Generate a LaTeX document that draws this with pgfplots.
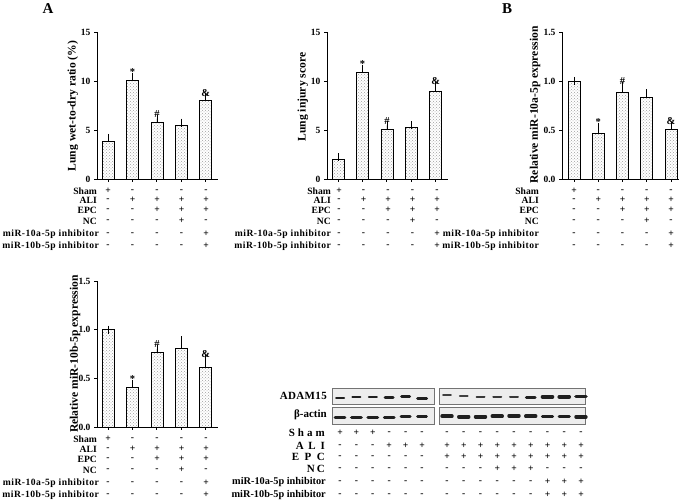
\documentclass[border=0pt]{standalone}
\usepackage{pgfplots}
\pgfplotsset{compat=1.18}
\usepackage{fontspec}
\setmainfont{Liberation Serif}
\usetikzlibrary{patterns}
\newcommand\rowfont{\bfseries\fontsize{9.6}{10}\selectfont}
\newcommand\blotfont{\bfseries\fontsize{11}{11}\selectfont}
\newcommand\ls[2]{{\addfontfeatures{LetterSpace=#1}#2}}
\newcommand\spread[2]{\makebox[#1][s]{#2}}
\newcommand\signrow[4]{%
  \foreach \s [count=\i from 0] in {#4} {%
    \node[font=\rowfont, inner sep=0pt] at ({#1+\i*#2}, {502-#3}) {\s};}}
\newcommand\rowlabels[8]{% xend, y1..y6 , xend2
  \node[anchor=east, font=\rowfont, inner sep=0pt] at (#1, 502-#2) {Sham};
  \node[anchor=east, font=\rowfont, inner sep=0pt] at (#1, 502-#3) {ALI};
  \node[anchor=east, font=\rowfont, inner sep=0pt] at (#1, 502-#4) {EPC};
  \node[anchor=east, font=\rowfont, inner sep=0pt] at (#1, 502-#5) {NC};
  \node[anchor=east, font=\rowfont, inner sep=0pt] at (#8, 502-#6) {\ls{5}{miR-10a-5p inhibitor}};
  \node[anchor=east, font=\rowfont, inner sep=0pt] at (#8, 502-#7) {\ls{5}{miR-10b-5p inhibitor}};}
\newcommand\barsigns[8]{% x0, dx, y1..y6
  \signrow{#1}{#2}{#3}{+,-,-,-,-}
  \signrow{#1}{#2}{#4}{-,+,+,+,+}
  \signrow{#1}{#2}{#5}{-,-,+,+,+}
  \signrow{#1}{#2}{#6}{-,-,-,+,-}
  \signrow{#1}{#2}{#7}{-,-,-,-,+}
  \signrow{#1}{#2}{#8}{-,-,-,-,+}}
\begin{document}
\begin{tikzpicture}[x=1pt,y=1pt,font=\bfseries]
\useasboundingbox (0,0) rectangle (685,502);
\pgfplotsset{
  barax/.style={
    scale only axis, width=121pt, height=147pt,
    axis lines=left, axis line style={line width=0.8pt, -},
    xmin=0.55, xmax=5.5, ymin=0,
    xtick={1,2,3,4,5}, xticklabels={,,,,},
    xticklabel style={inner sep=0pt, font=\tiny},
    tick align=outside, major tick length=3pt,
    tick style={line width=0.8pt, black},
    yticklabel style={font=\bfseries\fontsize{9.5}{10}\selectfont},
    /pgf/number format/assume math mode=true,
    anchor=south west, clip=false,
  },
  bars/.style={ybar, bar width=12pt, draw=black, line width=0.7pt, fill=white,
     postaction={pattern=crosshatch dots, pattern color=gray!75},
     error bars/.cd, y dir=plus, y explicit,
     error bar style={line width=0.7pt, black},
     error mark options={mark size=4pt, line width=0.7pt, black}},
  blotax/.style={
    scale only axis, anchor=south west, xtick=\empty, ytick=\empty,
    ymin=0, ymax=1, axis line style={line width=0.9pt, black!55},
    axis background/.style={fill=black!7}, clip=false},
  band/.style={only marks, mark=-, black!88,
    mark options={line width=#1, line cap=round}},
}
\newcommand\ann{\bfseries\fontsize{10.5}{10}\selectfont}
% ---------- Panel 1 ----------
\begin{axis}[barax, at={(97pt,323pt)}, ymax=15, ytick={0,5,10,15}]
\addplot[bars] table[x=x, y=y, y error=e] {
x y e
1 3.87 0.33
2 10.03 0.42
3 5.75 0.40
4 5.47 0.27
5 8.03 0.30
};
\node[font=\ann, anchor=south, inner sep=1pt] at (axis cs:2,10.45) {*};
\node[font=\ann, anchor=south, inner sep=1pt] at (axis cs:3,6.15) {\#};
\node[font=\ann, anchor=south, inner sep=1pt] at (axis cs:5,8.33) {\&};
\end{axis}
\node[rotate=90, font=\bfseries\fontsize{11.6}{12}\selectfont] at (73,{502-106}) {Lung wet-to-dry ratio (\%)};
\rowlabels{97}{191}{200}{210}{221}{234}{246}{99}
\barsigns{108}{24.5}{191}{200}{210}{221}{234}{246}
% ---------- Panel 2 ----------
\begin{axis}[barax, at={(327pt,323pt)}, ymax=15, ytick={0,5,10,15}]
\addplot[bars] table[x=x, y=y, y error=e] {
x y e
1 1.97 0.27
2 10.88 0.38
3 5.10 0.38
4 5.30 0.20
5 8.98 0.48
};
\node[font=\ann, anchor=south, inner sep=1pt] at (axis cs:2,11.26) {*};
\node[font=\ann, anchor=south, inner sep=1pt] at (axis cs:3,5.48) {\#};
\node[font=\ann, anchor=south, inner sep=1pt] at (axis cs:5,9.46) {\&};
\end{axis}
\node[rotate=90, font=\bfseries\fontsize{11.6}{12}\selectfont] at (303,{502-97}) {Lung injury score};
\rowlabels{331}{191}{200}{210}{221}{234}{246}{331}
\barsigns{339}{24.5}{191}{200}{210}{221}{234}{246}
% ---------- Panel 3 ----------
\begin{axis}[barax, at={(562pt,323pt)}, width=117pt, xmin=0.505, xmax=5.33,
  ymax=1.5, ytick={0,0.5,1,1.5}, yticklabels={0.0,0.5,1.0,1.5}]
\addplot[bars] table[x=x, y=y, y error=e] {
x y e
1 1.00 0.0
2 0.467 0.063
3 0.886 0.062
4 0.830 0.046
5 0.505 0.040
};
\node[font=\ann, anchor=south, inner sep=1pt] at (axis cs:2,0.53) {*};
\node[font=\ann, anchor=south, inner sep=1pt] at (axis cs:3,0.948) {\#};
\node[font=\ann, anchor=south, inner sep=1pt] at (axis cs:5,0.545) {\&};
\end{axis}
\node[rotate=90, font=\bfseries\fontsize{11.6}{12}\selectfont] at (535,{502-105}) {Relative miR-10a-5p expression};
\rowlabels{539}{191}{200}{210}{221}{234}{246}{539}
\barsigns{574}{24.25}{191}{200}{210}{221}{234}{246}
% ---------- Panel 4 ----------
\begin{axis}[barax, at={(97pt,75pt)}, height=146pt, ymax=1.5, ytick={0,0.5,1,1.5},
  yticklabels={0.0,0.5,1.0,1.5}]
\addplot[bars] table[x=x, y=y, y error=e] {
x y e
1 1.00 0.0
2 0.406 0.034
3 0.767 0.033
4 0.808 0.085
5 0.614 0.085
};
\node[font=\ann, anchor=south, inner sep=1pt] at (axis cs:2,0.44) {*};
\node[font=\ann, anchor=south, inner sep=1pt] at (axis cs:3,0.80) {\#};
\node[font=\ann, anchor=south, inner sep=1pt] at (axis cs:5,0.70) {\&};
\end{axis}
\node[rotate=90, font=\bfseries\fontsize{11.6}{12}\selectfont] at (75,{502-354}) {Relative miR-10b-5p expression};
\rowlabels{97}{439}{449}{459}{470}{483}{495}{99}
\barsigns{108}{24.5}{439}{449}{459}{470}{483}{495}
% ---------- Panel letters ----------
\node[font=\bfseries\fontsize{15}{15}\selectfont] at (48,{502-9}) {A};
\node[font=\bfseries\fontsize{15}{15}\selectfont] at (507,{502-9}) {B};
% ---------- Western blot ----------
\begin{axis}[blotax, at={(332pt,98pt)}, width=102pt, height=16pt, xmin=0.512, xmax=6.73]
\addplot[band=2pt, mark size=4pt] coordinates {(1,0.4) (2,0.42) (3,0.42)};
\addplot[band=3pt, mark size=4pt] coordinates {(4,0.42) (5,0.44)};
\addplot[band=3pt, mark size=4.5pt] coordinates {(6,0.36)};
\end{axis}
\begin{axis}[blotax, at={(332pt,78pt)}, width=102pt, height=17pt, xmin=0.512, xmax=6.73]
\addplot[band=3.3pt, mark size=4.8pt] coordinates {(1,0.38) (2,0.38) (3,0.38) (4,0.4)};
\addplot[band=2.8pt, mark size=4.5pt] coordinates {(5,0.42) (6,0.46)};
\end{axis}
\begin{axis}[blotax, at={(439pt,98pt)}, width=146pt, height=16pt, xmin=0.522, xmax=9.24]
\addplot[band=1.8pt, mark size=4pt, black!75] coordinates {(1,0.56) (2,0.48)};
\addplot[band=2pt, mark size=4pt, black!78] coordinates {(3,0.42) (4,0.42) (5,0.42)};
\addplot[band=2.6pt, mark size=4.5pt] coordinates {(6,0.42)};
\addplot[band=3.6pt, mark size=5pt] coordinates {(7,0.44) (8,0.44) (9,0.46)};
\end{axis}
\begin{axis}[blotax, at={(439pt,78pt)}, width=146pt, height=17pt, xmin=0.522, xmax=9.24]
\addplot[band=3.4pt, mark size=5pt] coordinates {(1,0.46) (2,0.42) (3,0.42) (4,0.46) (5,0.48) (6,0.46) (7,0.44) (8,0.44) (9,0.42)};
\end{axis}
\node[anchor=east, font=\blotfont, inner sep=0pt] at (327,{502-396}) {\spread{47pt}{A\hfill D\hfill A\hfill M\hfill 1\hfill 5}};
\node[anchor=east, font=\blotfont, inner sep=0pt] at (327,{502-415}) {β-actin};
\node[anchor=east, font=\blotfont, inner sep=0pt] at (325,{502-433}) {\spread{36pt}{S\hfill h\hfill a\hfill m}};
\node[anchor=east, font=\blotfont, inner sep=0pt] at (325,{502-446}) {\spread{29pt}{A\hfill L\hfill I}};
\node[anchor=east, font=\blotfont, inner sep=0pt] at (325,{502-457}) {\spread{33pt}{E\hfill P\hfill C}};
\node[anchor=east, font=\blotfont, inner sep=0pt] at (325,{502-469}) {\spread{18pt}{N\hfill C}};
\node[anchor=east, font=\bfseries\fontsize{10.3}{10}\selectfont, inner sep=0pt] at (326,{502-482}) {miR-10a-5p inhibitor};
\node[anchor=east, font=\bfseries\fontsize{10.3}{10}\selectfont, inner sep=0pt] at (326,{502-495}) {miR-10b-5p inhibitor};
\signrow{340}{16.4}{433}{+,+,+,-,-,-}
\signrow{340}{16.4}{446}{-,-,-,+,+,+}
\signrow{340}{16.4}{457}{-,-,-,-,-,-}
\signrow{340}{16.4}{469}{-,-,-,-,-,-}
\signrow{340}{16.4}{482}{-,-,-,-,-,-}
\signrow{340}{16.4}{495}{-,-,-,-,-,-}
\signrow{447}{16.75}{433}{-,-,-,-,-,-,-,-,-}
\signrow{447}{16.75}{446}{+,+,+,+,+,+,+,+,+}
\signrow{447}{16.75}{457}{+,+,+,+,+,+,+,+,+}
\signrow{447}{16.75}{469}{-,-,-,+,+,+,-,-,-}
\signrow{447}{16.75}{482}{-,-,-,-,-,-,+,+,+}
\signrow{447}{16.75}{495}{-,-,-,-,-,-,+,+,+}
\end{tikzpicture}
\end{document}
